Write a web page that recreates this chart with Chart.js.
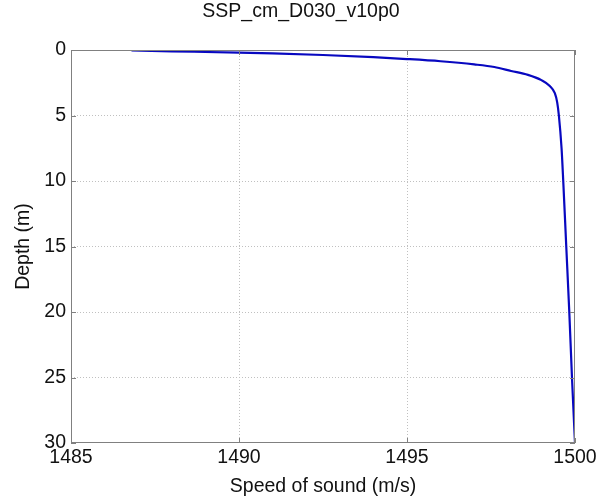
<!DOCTYPE html>
<html>
<head>
<meta charset="utf-8">
<script src="https://cdn.jsdelivr.net/npm/chart.js@4"></script>
<style>
  html, body { margin: 0; padding: 0; background: #fff; }
  canvas { display: block; }
</style>
</head>
<body>
<canvas id="ssp" width="602" height="498"></canvas>
<script>
// speed of sound (m/s) vs depth (m)
const velocidad = [1486.8, 1488.0, 1490.0, 1491.0, 1492.5, 1494.0, 1495.0, 1496.0, 1497.0, 1497.6, 1498.1, 1498.6, 1499.0, 1499.25, 1499.4, 1499.47, 1499.52, 1499.6, 1499.65, 1499.74, 1499.83, 1499.91, 1500.0];
const profundidad = [0.04, 0.1, 0.2, 0.26, 0.38, 0.55, 0.69, 0.86, 1.1, 1.3, 1.6, 1.9, 2.3, 2.75, 3.3, 4.0, 5.0, 7.5, 10, 15, 20, 25, 30];
const ticks_x = [1485, 1490, 1495, 1500];
const ticks_y = [0, 5, 10, 15, 20, 25, 30];

const fuente = "'Liberation Sans', Arial, sans-serif";
const tam = 19.5;
const puntos = velocidad.map((v, i) => ({ x: v, y: profundidad[i] }));

// matlab style box + inward tick marks
const plugin_caja = {
  id: "cajaMatlab",
  afterDraw: (chart) => {
    const ctx = chart.ctx;
    const a = chart.chartArea;
    const sx = chart.scales.x;
    const sy = chart.scales.y;
    const largo = 5;
    ctx.save();
    ctx.strokeStyle = "#808080";
    ctx.lineWidth = 1;
    ctx.strokeRect(a.left + 0.5, a.top + 0.5, a.right - a.left - 1, a.bottom - a.top - 1);
    ctx.beginPath();
    ticks_x.forEach((t) => {
      const px = Math.round(sx.getPixelForValue(t)) + 0.5;
      ctx.moveTo(px, a.bottom);
      ctx.lineTo(px, a.bottom - largo);
      ctx.moveTo(px, a.top);
      ctx.lineTo(px, a.top + largo);
    });
    ticks_y.forEach((t) => {
      const py = Math.round(sy.getPixelForValue(t)) + 0.5;
      ctx.moveTo(a.left, py);
      ctx.lineTo(a.left + largo, py);
      ctx.moveTo(a.right, py);
      ctx.lineTo(a.right - largo, py);
    });
    ctx.stroke();
    ctx.restore();
  },
};

const color_rejilla = (c) => {
  const v = c.tick ? c.tick.value : null;
  return v === ticks_x[0] || v === ticks_x[ticks_x.length - 1] || v === ticks_y[0] || v === ticks_y[ticks_y.length - 1]
    ? "rgba(0,0,0,0)"
    : "#c0c0c0";
};

const ctx = document.getElementById("ssp").getContext("2d");
new Chart(ctx, {
  type: "scatter",
  data: {
    datasets: [
      {
        label: "SSP",
        data: puntos,
        showLine: true,
        borderColor: "#0808c0",
        borderWidth: 2.2,
        pointRadius: 0,
        cubicInterpolationMode: "monotone",
      },
    ],
  },
  options: {
    responsive: false,
    animation: false,
    layout: { padding: 0 },
    plugins: {
      legend: { display: false },
      tooltip: { enabled: false },
      title: {
        display: true,
        text: "SSP_cm_D030_v10p0",
        color: "#111",
        font: { family: fuente, size: tam, weight: "normal" },
        padding: { top: 0.3, bottom: 26.3 },
      },
    },
    scales: {
      x: {
        type: "linear",
        min: 1485,
        max: 1500,
        afterBuildTicks: (s) => { s.ticks = ticks_x.map((v) => ({ value: v })); },
        afterFit: (s) => { s.height = 55; s.paddingRight = 27; },
        grid: { color: color_rejilla, drawTicks: false, lineWidth: 1 },
        border: { display: false, dash: [1, 2] },
        ticks: { color: "#111", padding: 3, font: { family: fuente, size: tam }, callback: (v) => String(v) },
        title: {
          display: true,
          text: "Speed of sound (m/s)",
          color: "#111",
          font: { family: fuente, size: tam },
          padding: { top: 0.5, bottom: 0 },
        },
      },
      y: {
        type: "linear",
        reverse: true,
        min: 0,
        max: 30,
        afterBuildTicks: (s) => { s.ticks = ticks_y.map((v) => ({ value: v })); },
        afterFit: (s) => { s.width = 71; },
        grid: { color: color_rejilla, drawTicks: false, lineWidth: 1 },
        border: { display: false, dash: [1, 2] },
        ticks: { color: "#111", padding: 5, font: { family: fuente, size: tam }, callback: (v) => String(v) },
        title: {
          display: true,
          text: "Depth (m)",
          color: "#111",
          font: { family: fuente, size: tam },
          padding: { top: 12.3, bottom: 0 },
        },
      },
    },
  },
  plugins: [plugin_caja],
});
</script>
</body>
</html>
